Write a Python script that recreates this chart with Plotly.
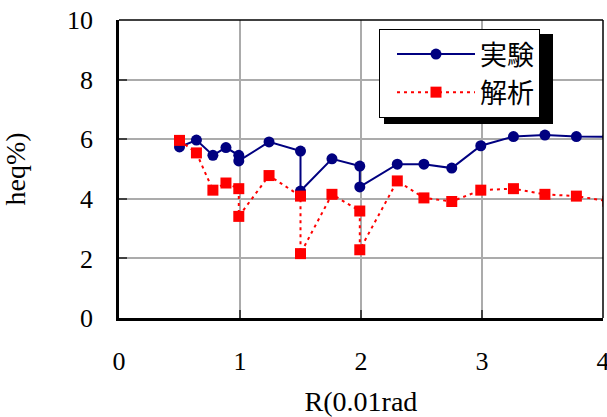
import plotly.graph_objects as go

# Data
x_exp = [0.50, 0.64, 0.776, 0.884, 0.99, 0.99, 1.24, 1.50, 1.50, 1.76, 1.99, 1.99,
         2.30, 2.52, 2.75, 2.99, 3.26, 3.52, 3.78, 4.04]
y_exp = [5.74, 5.97, 5.46, 5.72, 5.46, 5.27, 5.91, 5.60, 4.26, 5.34, 5.10, 4.40,
         5.16, 5.16, 5.03, 5.78, 6.09, 6.14, 6.09, 6.08]

x_ana = [0.50, 0.64, 0.776, 0.884, 0.99, 0.99, 1.24, 1.50, 1.50, 1.76, 1.99, 1.99,
         2.30, 2.52, 2.75, 2.99, 3.26, 3.52, 3.78, 4.04]
y_ana = [5.96, 5.54, 4.29, 4.53, 4.34, 3.41, 4.78, 4.09, 2.16, 4.15, 3.59, 2.29,
         4.60, 4.03, 3.91, 4.29, 4.34, 4.15, 4.09, 3.92]

name_exp = "実験"
name_ana = "解析"
x_title = "R(0.01rad"
y_title = "heq%)"

serif = "Liberation Serif"
cjk = "Noto Sans CJK JP"

fig = go.Figure()
fig.add_trace(go.Scatter(
    x=x_exp, y=y_exp, name=name_exp, mode="lines+markers",
    line=dict(color="#000080", width=2),
    marker=dict(symbol="circle", size=11, color="#000080"),
))
fig.add_trace(go.Scatter(
    x=x_ana, y=y_ana, name=name_ana, mode="lines+markers",
    line=dict(color="#FF0000", width=2, dash="3px,4px"),
    marker=dict(symbol="square", size=11, color="#FF0000"),
))

W, H = 607, 417
L, R, T, B = 119, 4, 20, 99
pw, ph = W - L - R, H - T - B


def px2paper(px, py):
    return (px - L) / pw, (H - B - py) / ph


# legend position and its drop shadow, in pixel placement
lx, ly = px2paper(379, 29)
sx0, sy1 = px2paper(384, 34)
sx1, sy0 = px2paper(553, 124)

fig.update_layout(
    width=W, height=H,
    margin=dict(l=L, r=R, t=T, b=B, autoexpand=False),
    paper_bgcolor="white", plot_bgcolor="white",
    font=dict(family=serif, size=26, color="black"),
    showlegend=True,
    legend=dict(
        x=lx, y=ly, xanchor="left", yanchor="top",
        bgcolor="white", bordercolor="black", borderwidth=1,
        font=dict(family=cjk, size=27, color="black"),
        itemwidth=78, indentation=12, tracegroupgap=0,
    ),
    shapes=[
        dict(type="rect", xref="paper", yref="paper", x0=sx0, x1=sx1, y0=sy0, y1=sy1,
             fillcolor="black", line=dict(width=0), layer="above"),
        dict(type="line", xref="paper", yref="paper", x0=0, x1=1, y0=1, y1=1,
             line=dict(color="black", width=1.5), layer="above"),
        dict(type="line", xref="paper", yref="paper", x0=1, x1=1, y0=0, y1=1,
             line=dict(color="black", width=1.5), layer="above"),
    ],
)

fig.update_xaxes(
    range=[0, 4], dtick=1, tick0=0,
    showgrid=True, gridcolor="#ababab", gridwidth=1.5,
    showline=True, linecolor="black", linewidth=2.5,
    ticks="inside", ticklen=8, tickwidth=1.5, tickcolor="#404040",
    tickfont=dict(family=serif, size=26, color="black"),
    ticklabelstandoff=18, ticklabeloverflow="allow",
    zeroline=False,
    title=dict(text=x_title, font=dict(family=serif, size=28, color="black"), standoff=24),
    automargin=False,
)
fig.update_yaxes(
    range=[0, 10], dtick=2, tick0=0,
    showgrid=True, gridcolor="#ababab", gridwidth=1.5,
    showline=True, linecolor="black", linewidth=2.5,
    ticks="inside", ticklen=8, tickwidth=1.5, tickcolor="#404040",
    tickfont=dict(family=serif, size=26, color="black"),
    ticklabelstandoff=18, ticklabeloverflow="allow",
    zeroline=False,
    title=dict(text=y_title, font=dict(family=serif, size=28, color="black"), standoff=34),
    automargin=False,
)

fig.write_html("out.html")
